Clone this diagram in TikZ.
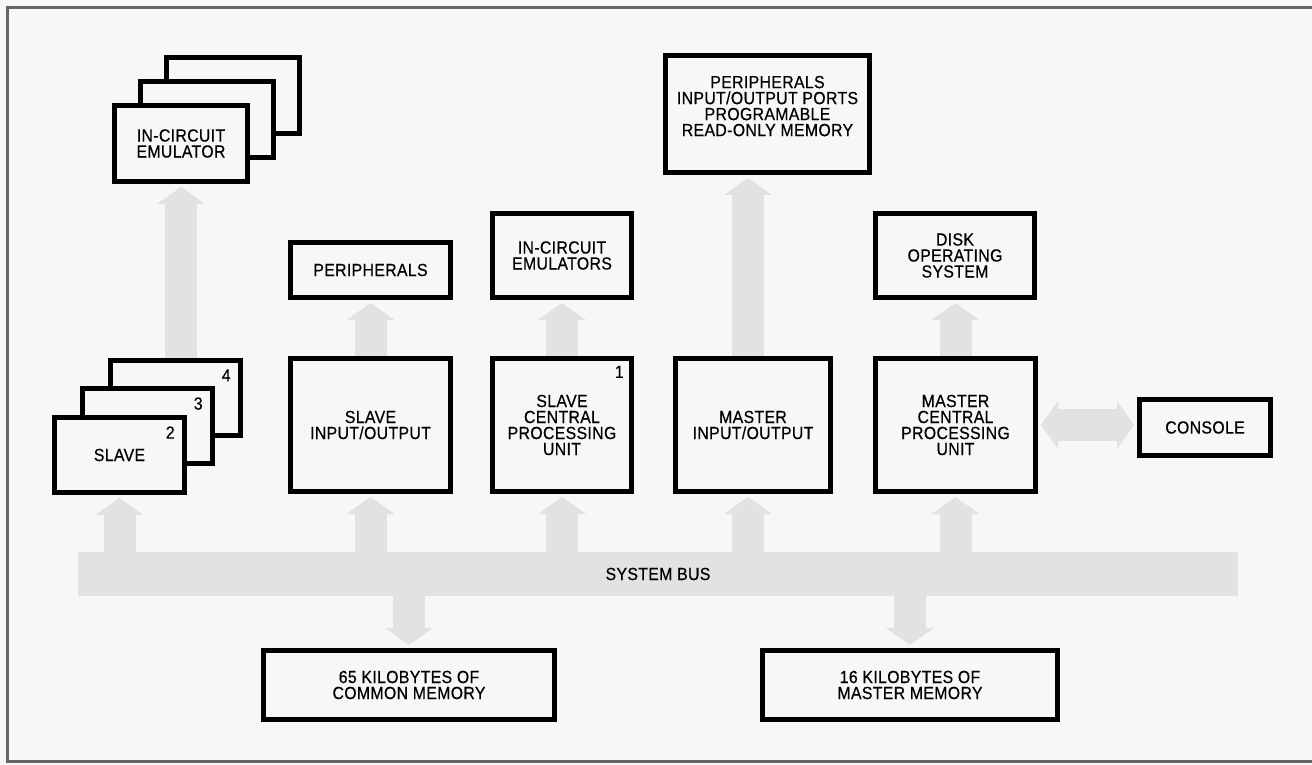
\documentclass[tikz,border=0pt]{standalone}
\usepackage{fontspec}
\setmainfont{Liberation Sans}[FakeStretch=0.9,FakeBold=0.5,LetterSpace=2]
\usepackage{xcolor}
\definecolor{sysbg}{HTML}{F7F7F6}
\definecolor{sysbus}{HTML}{E2E2E2}
\definecolor{sysframe}{HTML}{666666}
\usetikzlibrary{arrows.meta,positioning}

\begin{document}
\begin{tikzpicture}[x=0.2mm,y=-0.2mm,
  blk/.style={draw,line width=1mm,fill=sysbg,align=center,inner sep=1pt,font=\fontsize{10}{9.1}\selectfont},
  num/.style={inner sep=0pt,font=\fontsize{10}{10}\selectfont},
  flow/.style={draw=sysbus,line width=6.4mm,shorten >=0.6mm,
    -{Triangle[width=9.6mm,length=3.4mm,line width=0pt]}},
  flow2/.style={flow,shorten <=0.6mm,
    {Triangle[width=9.6mm,length=3.4mm,line width=0pt]}-{Triangle[width=9.6mm,length=3.4mm,line width=0pt]}}]
\useasboundingbox (0,0) rectangle (1312,765);
\fill[sysbg] (0,0) rectangle (1312,765);
\draw[sysframe,line width=0.6mm] (1312,8) -- (7,8) -- (7,761) -- (1312,761);

% system bus
\node[fill=sysbus,minimum width=232mm,minimum height=8.8mm,inner sep=0pt,
  font=\fontsize{10}{10}\selectfont] (bus) at (658,574) {SYSTEM BUS};

% slave side
\node[blk,minimum width=26.6mm,minimum height=15.2mm] (ice3) at (233,95.5) {};
\node[blk,minimum width=26.6mm,minimum height=15.2mm] (ice2) at (207,119.5) {};
\node[blk,minimum width=26.6mm,minimum height=15.2mm] (ice1) at (181,143.5) {IN-CIRCUIT\\EMULATOR};
\node[blk,minimum width=26mm,minimum height=15mm] (slv4) at (175.5,398) {};
\node[blk,minimum width=26mm,minimum height=15mm] (slv3) at (147.5,426) {};
\node[blk,minimum width=26mm,minimum height=15mm] (slv2) at (119.5,455) {SLAVE};
\node[num,below left=2.2mm and 2.4mm of slv4.north east] (n4) {4};
\node[num,below left=2.2mm and 2.4mm of slv3.north east] (n3) {3};
\node[num,below left=2.2mm and 2.4mm of slv2.north east] (n2) {2};

\node[blk,minimum width=32mm,minimum height=11mm] (peri) at (370.5,270) {PERIPHERALS};
\node[blk,minimum width=32mm,minimum height=26.6mm] (sio) at (370.5,425) {SLAVE\\INPUT/OUTPUT};
\node[blk,minimum width=27.8mm,minimum height=16.8mm] (ices) at (562,255.5) {IN-CIRCUIT\\EMULATORS};
\node[blk,minimum width=27.8mm,minimum height=26.6mm] (scpu) at (562,425) {SLAVE\\CENTRAL\\PROCESSING\\UNIT};
\node[num,below left=1.9mm and 2mm of scpu.north east] (n1) {1};

% master side
\node[blk,minimum width=40.8mm,minimum height=23.4mm,text depth=3.2mm] (prom) at (767.5,114)
  {PERIPHERALS\\INPUT/OUTPUT PORTS\\PROGRAMABLE\\READ-ONLY MEMORY};
\node[blk,minimum width=31mm,minimum height=26.6mm] (mio) at (753,425) {MASTER\\INPUT/OUTPUT};
\node[blk,minimum width=31.8mm,minimum height=16.8mm] (dos) at (955,255.5) {DISK\\OPERATING\\SYSTEM};
\node[blk,minimum width=32mm,minimum height=26.6mm] (mcpu) at (955.5,425) {MASTER\\CENTRAL\\PROCESSING\\UNIT};
\node[blk,minimum width=26.2mm,minimum height=11.2mm] (cons) at (1205,427.5) {CONSOLE};

% memories
\node[blk,minimum width=58.2mm,minimum height=13.8mm] (mem65) at (409,685) {65 KILOBYTES OF\\COMMON MEMORY};
\node[blk,minimum width=59mm,minimum height=13.8mm] (mem16) at (910,685) {16 KILOBYTES OF\\MASTER MEMORY};

% flows
\draw[flow] (bus.north -| slv2) -- (slv2.south);
\draw[flow] (slv4.north -| ice1) -- (ice1.south);
\draw[flow] (bus.north -| sio) -- (sio.south);
\draw[flow] (sio.north) -- (peri.south);
\draw[flow] (bus.north -| scpu) -- (scpu.south);
\draw[flow] (scpu.north) -- (ices.south);
\draw[flow] ([xshift=-1mm]bus.north -| mio) -- ([xshift=-1mm]mio.south);
\draw[flow] ([xshift=-1mm]mio.north) -- ([xshift=-1mm]mio.north |- prom.south);
\draw[flow] (bus.north -| mcpu) -- (mcpu.south);
\draw[flow] (mcpu.north) -- (mcpu.north |- dos.south);
\draw[flow2] (mcpu.east) -- (mcpu.east -| cons.west);
\draw[flow] (bus.south -| mem65) -- (mem65.north);
\draw[flow] (bus.south -| mem16) -- (mem16.north);
\end{tikzpicture}
\end{document}
